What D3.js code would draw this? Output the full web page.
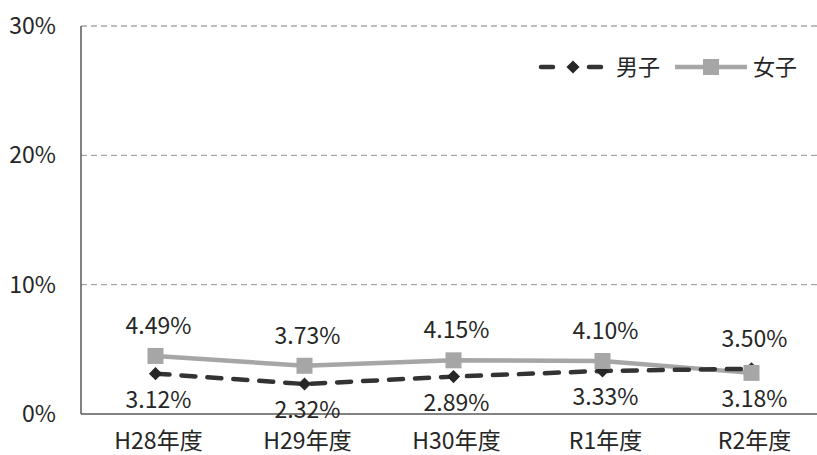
<!DOCTYPE html>
<html>
<head>
<meta charset="utf-8">
<script src="https://cdn.jsdelivr.net/npm/d3@7"></script>
<style>
body { margin: 0; background: #fff; }
text { font-family: "Noto Sans CJK JP", "Noto Sans", sans-serif; fill: #262626; }
</style>
</head>
<body>
<svg id="chart" width="817" height="455"></svg>
<script>
var svg = d3.select('#chart');

var years = ['H28年度', 'H29年度', 'H30年度', 'R1年度', 'R2年度'];
var boys = [3.12, 2.32, 2.89, 3.33, 3.50];
var girls = [4.49, 3.73, 4.15, 4.10, 3.18];
var yTicks = [0, 10, 20, 30];
var seriesNames = ['男子', '女子'];

var plotLeft = 81, plotRight = 826, plotTop = 26, plotBottom = 414;

var x = d3.scalePoint().domain(years).range([plotLeft, plotRight]).padding(0.5);
var y = d3.scaleLinear().domain([0, 30]).range([plotBottom, plotTop]);

// grid
svg.append('g').selectAll('line').data(yTicks.filter(d => d > 0)).enter().append('line')
	.attr('x1', plotLeft).attr('x2', 817)
	.attr('y1', d => y(d)).attr('y2', d => y(d))
	.attr('stroke', '#a6a6a6').attr('stroke-width', 1.3)
	.attr('stroke-dasharray', '6,4');

// axes lines
svg.append('line').attr('x1', plotLeft).attr('x2', plotLeft).attr('y1', plotTop).attr('y2', plotBottom)
	.attr('stroke', '#595959').attr('stroke-width', 1.5);
svg.append('line').attr('x1', plotLeft).attr('x2', 817).attr('y1', plotBottom).attr('y2', plotBottom)
	.attr('stroke', '#595959').attr('stroke-width', 1.5);

// y labels
svg.append('g').selectAll('text').data(yTicks).enter().append('text')
	.attr('x', 56).attr('y', d => y(d)).attr('dy', '0.35em')
	.attr('text-anchor', 'end').style('font-size', '23px')
	.text(d => d + '%');

// x labels
svg.append('g').selectAll('text').data(years).enter().append('text')
	.attr('x', d => x(d) + 3).attr('y', 449)
	.attr('text-anchor', 'middle').style('font-size', '23px')
	.text(d => d);

var line = d3.line().x((d, i) => x(years[i])).y(d => y(d));

// girls line
svg.append('path').datum(girls)
	.attr('d', line).attr('fill', 'none')
	.attr('stroke', '#a6a6a6').attr('stroke-width', 4.5);

// boys line
svg.append('path').datum(boys)
	.attr('d', line).attr('fill', 'none')
	.attr('stroke', '#333333').attr('stroke-width', 4.5)
	.attr('stroke-linecap', 'round')
	.attr('stroke-dasharray', '14,12');

var diamond = d3.symbol().type(d3.symbolDiamond2).size(110);

svg.append('g').selectAll('path').data(boys).enter().append('path')
	.attr('d', diamond)
	.attr('transform', (d, i) => 'translate(' + x(years[i]) + ',' + y(d) + ')')
	.attr('fill', '#262626');
svg.append('g').selectAll('rect').data(girls).enter().append('rect')
	.attr('x', (d, i) => x(years[i]) - 8).attr('y', d => y(d) - 8)
	.attr('width', 16).attr('height', 16)
	.attr('fill', '#a6a6a6');

// data labels: higher value above, lower below
function labels(data, other) {
	svg.append('g').selectAll('text').data(data).enter().append('text')
		.attr('x', (d, i) => x(years[i]) + 3)
		.attr('y', (d, i) => d >= other[i] ? y(d) - 22 : y(d) + 34)
		.attr('text-anchor', 'middle').style('font-size', '23px')
		.text(d => d.toFixed(2) + '%');
}
labels(girls, boys);
labels(boys, girls);

// legend
var lg = svg.append('g').attr('transform', 'translate(0,67)');
lg.append('line').attr('x1', 541).attr('x2', 601).attr('y1', 0).attr('y2', 0)
	.attr('stroke', '#333333').attr('stroke-width', 4.5)
	.attr('stroke-linecap', 'round').attr('stroke-dasharray', '12,36');
lg.append('path').attr('d', diamond).attr('transform', 'translate(573,0)').attr('fill', '#262626');
lg.append('text').attr('x', 616).attr('y', 0).attr('dy', '0.35em').style('font-size', '22px').text(seriesNames[0]);
lg.append('line').attr('x1', 675).attr('x2', 747).attr('y1', 0).attr('y2', 0)
	.attr('stroke', '#a6a6a6').attr('stroke-width', 4.5);
lg.append('rect').attr('x', 703).attr('y', -8).attr('width', 16).attr('height', 16).attr('fill', '#a6a6a6');
lg.append('text').attr('x', 753).attr('y', 0).attr('dy', '0.35em').style('font-size', '22px').text(seriesNames[1]);
</script>
</body>
</html>
